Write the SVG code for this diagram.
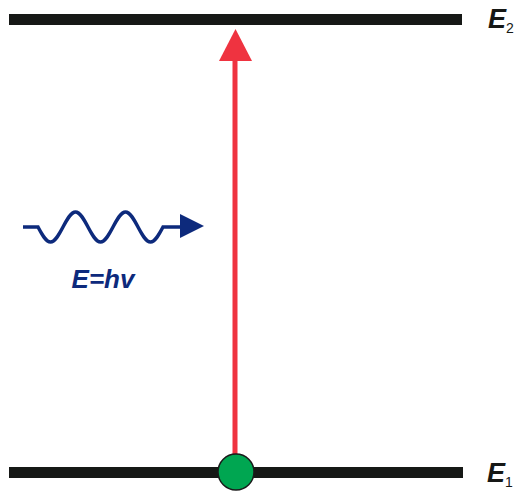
<svg xmlns="http://www.w3.org/2000/svg" width="516" height="493" viewBox="0 0 516 493">
<style>
.level{stroke:#161816;stroke-width:11;fill:none}
.lbl{font-family:"Liberation Sans",Arial,sans-serif;font-weight:bold;font-style:italic;font-size:27px;fill:#161816}
.sub{font-family:"Liberation Sans",Arial,sans-serif;font-size:14px;fill:#161816}
.wave{stroke:#0d2a7c;stroke-width:3.5;fill:none}
</style>
<rect width="516" height="493" fill="#fff"/>
<g id="E2">
<line class="level" x1="9" y1="19.5" x2="462" y2="19.5"/>
<text class="lbl" x="488" y="28">E<tspan class="sub" dx="0" dy="5" font-style="normal" font-weight="normal" font-size="14">2</tspan></text>
</g>
<g id="E1">
<line class="level" x1="9" y1="472.5" x2="463" y2="472.5"/>
<text class="lbl" x="487" y="482">E<tspan class="sub" dy="5" font-style="normal" font-weight="normal" font-size="14">1</tspan></text>
</g>
<g id="connectors">
<line x1="235" y1="455" x2="235" y2="58" stroke="#ef3340" stroke-width="5"/>
<polygon points="235.5,29 219,61 252,61" fill="#ef3340"/>
</g>
<g id="electron">
<circle cx="236" cy="472" r="18" fill="#00a651" stroke="#1a1a1a" stroke-width="1.5"/>
</g>
<g id="photon">
<path class="wave" d="M23,227 L38,227 C42.18,234.88 45.96,242 50.5,242 C55.04,242 58.82,234.88 63,227 C67.18,219.12 70.96,212 75.5,212 C80.04,212 83.82,219.12 88,227 C92.18,234.88 95.96,242 100.5,242 C105.04,242 108.82,234.88 113,227 C117.18,219.12 120.96,212 125.5,212 C130.04,212 133.82,219.12 138,227 C142.18,234.88 145.96,242 150.5,242 C155.04,242 158.82,234.88 163,227 L182,227"/>
<polygon points="180,214 204,226 180,238" fill="#0d2a7c"/>
<text x="103" y="288" text-anchor="middle" font-family="'Liberation Sans',Arial,sans-serif" font-weight="bold" font-style="italic" font-size="26" fill="#0d2a7c">E=hv</text>
</g>
</svg>
